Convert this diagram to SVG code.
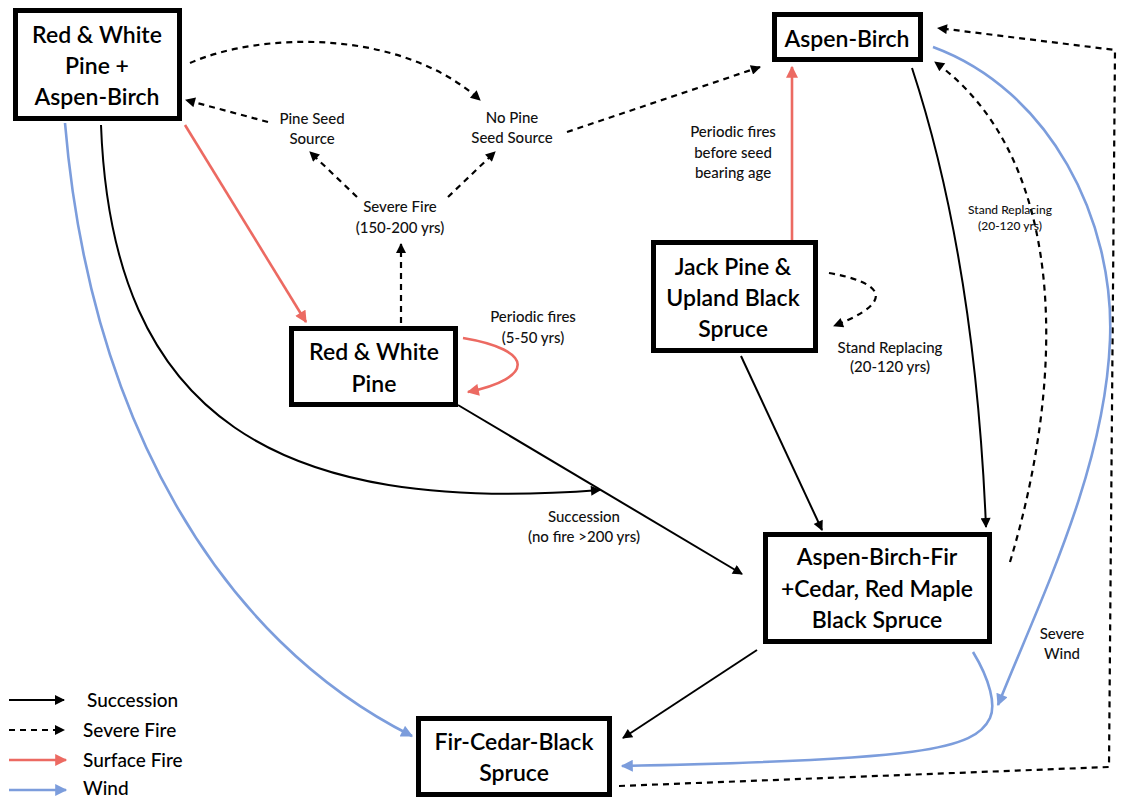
<svg xmlns="http://www.w3.org/2000/svg" width="1125" height="797" viewBox="0 0 1125 797">
<style>
.box{fill:#fff;stroke:#000;stroke-width:5}
.nt{font-family:Lato,"Noto Sans",sans-serif;font-weight:600;font-size:23px;fill:#000;text-anchor:middle}
.lb{font-family:Lato,"Noto Sans",sans-serif;font-weight:500;font-size:15px;fill:#111;text-anchor:middle}
.sm{font-family:Lato,"Noto Sans",sans-serif;font-weight:500;font-size:12px;fill:#111;text-anchor:middle}
.lg{font-family:Lato,"Noto Sans",sans-serif;font-weight:500;font-size:19px;fill:#000}
.suc{fill:none;stroke:#000;stroke-width:2}
.sev{fill:none;stroke:#000;stroke-width:2.2;stroke-dasharray:6 5}
.sur{fill:none;stroke:#ec6a62;stroke-width:2.6}
.wnd{fill:none;stroke:#7c9ddc;stroke-width:2.6}
</style>
<defs>
<marker id="ab" viewBox="0 0 10 10" refX="9" refY="5" markerWidth="13" markerHeight="10" markerUnits="userSpaceOnUse" orient="auto"><path d="M0,0 L10,5 L0,10 z" fill="#000"/></marker>
<marker id="ar" viewBox="0 0 10 10" refX="9" refY="5" markerWidth="13" markerHeight="12" markerUnits="userSpaceOnUse" orient="auto"><path d="M0,0 L10,5 L0,10 z" fill="#ec6a62"/></marker>
<marker id="aw" viewBox="0 0 10 10" refX="9" refY="5" markerWidth="13" markerHeight="12" markerUnits="userSpaceOnUse" orient="auto"><path d="M0,0 L10,5 L0,10 z" fill="#7c9ddc"/></marker>
</defs>
<rect width="1125" height="797" fill="#fff"/>
<g id="connectors">
<path class="sev" d="M190,63 C260,32 400,28 480,100" marker-end="url(#ab)"/>
<path class="sev" d="M268,122 L186,100" marker-end="url(#ab)"/>
<path class="sev" d="M567,132 L760,67" marker-end="url(#ab)"/>
<path class="sev" d="M357,197 L310,152" marker-end="url(#ab)"/>
<path class="sev" d="M448,197 L495,152" marker-end="url(#ab)"/>
<path class="sev" d="M401,323 L401,244" marker-end="url(#ab)"/>
<path class="sur" d="M185,125 L306,322" marker-end="url(#ar)"/>
<path class="sur" d="M463,338 C535,350 535,378 468,392" marker-end="url(#ar)"/>
<path class="suc" d="M101,125 C112,420 280,515 600,490" marker-end="url(#ab)"/>
<path class="suc" d="M458,405 L742,574" marker-end="url(#ab)"/>
<path class="suc" d="M741,356 L822,530" marker-end="url(#ab)"/>
<path class="suc" d="M912,68 Q975,260 986,527" marker-end="url(#ab)"/>
<path class="sev" d="M1010,562 C1065,380 1070,160 935,62" marker-end="url(#ab)"/>
<path class="sev" d="M619,786 L1109,767 L1115,50 L938,28" marker-end="url(#ab)"/>
<path class="wnd" d="M65,123 C90,420 220,640 412,736" marker-end="url(#aw)"/>
<path class="wnd" d="M933,47 C1050,90 1115,220 1110,340 C1105,470 1040,600 998,705" marker-end="url(#aw)"/>
<path class="wnd" d="M973,652 C990,680 996,705 990,718 C975,750 920,760 622,766" marker-end="url(#aw)"/>
<path class="suc" d="M757,650 L623,738" marker-end="url(#ab)"/>
<path class="sev" d="M829,273 C880,282 900,300 834,326" marker-end="url(#ab)"/>
<path class="sur" d="M792,242 L792,67" marker-end="url(#ar)"/>
</g>
<g id="labels">
<text class="lb" x="312" y="124">Pine Seed</text>
<text class="lb" x="312" y="144">Source</text>
<text class="lb" x="512" y="123">No Pine</text>
<text class="lb" x="512" y="143">Seed Source</text>
<text class="lb" x="400" y="212">Severe Fire</text>
<text class="lb" x="400" y="233">(150-200 yrs)</text>
<text class="lb" x="533" y="322">Periodic fires</text>
<text class="lb" x="533" y="343">(5-50 yrs)</text>
<text class="lb" x="733" y="137">Periodic fires</text>
<text class="lb" x="733" y="158">before seed</text>
<text class="lb" x="733" y="178">bearing age</text>
<text class="sm" x="1010" y="214">Stand Replacing</text>
<text class="sm" x="1010" y="230">(20-120 yrs)</text>
<text class="lb" x="890" y="353">Stand Replacing</text>
<text class="lb" x="890" y="372">(20-120 yrs)</text>
<text class="lb" x="584" y="522">Succession</text>
<text class="lb" x="584" y="542">(no fire &gt;200 yrs)</text>
<text class="lb" x="1062" y="639">Severe</text>
<text class="lb" x="1062" y="659">Wind</text>
</g>
<g id="n1"><rect class="box" x="15.5" y="10.5" width="164" height="108"/>
<text class="nt" x="97" y="43">Red &amp; White</text><text class="nt" x="97" y="74">Pine +</text><text class="nt" x="97" y="105">Aspen-Birch</text></g>
<g id="n2"><rect class="box" x="774.5" y="14.5" width="146" height="45"/>
<text class="nt" x="847" y="47">Aspen-Birch</text></g>
<g id="n3"><rect class="box" x="653.5" y="242.5" width="162" height="108"/>
<text class="nt" x="733" y="275">Jack Pine &amp;</text><text class="nt" x="733" y="306">Upland Black</text><text class="nt" x="733" y="337">Spruce</text></g>
<g id="n4"><rect class="box" x="291.5" y="328.5" width="164" height="76"/>
<text class="nt" x="374" y="360">Red &amp; White</text><text class="nt" x="374" y="392">Pine</text></g>
<g id="n5"><rect class="box" x="765.5" y="534.5" width="224" height="107"/>
<text class="nt" x="877" y="565">Aspen-Birch-Fir</text><text class="nt" x="877" y="597">+Cedar, Red Maple</text><text class="nt" x="877" y="628">Black Spruce</text></g>
<g id="n6"><rect class="box" x="418.5" y="718.5" width="191" height="76"/>
<text class="nt" x="514" y="750">Fir-Cedar-Black</text><text class="nt" x="514" y="781">Spruce</text></g>
<g id="legend">
<path class="suc" d="M9,700 L64,700" marker-end="url(#ab)"/>
<path class="sev" d="M9,730 L64,730" marker-end="url(#ab)"/>
<path class="sur" d="M9,760 L66,760" marker-end="url(#ar)"/>
<path class="wnd" d="M9,790 L66,790" marker-end="url(#aw)"/>
<text class="lg" x="87" y="707">Succession</text>
<text class="lg" x="83" y="737">Severe Fire</text>
<text class="lg" x="83" y="767">Surface Fire</text>
<text class="lg" x="83" y="795">Wind</text>
</g>
</svg>
